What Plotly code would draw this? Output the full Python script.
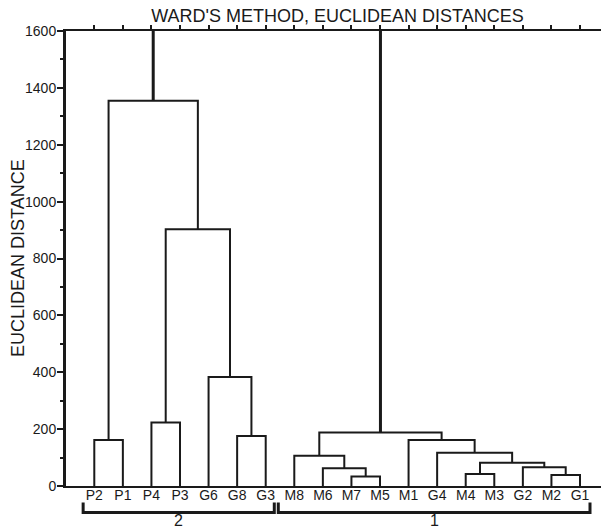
import plotly.graph_objects as go

# ---- data ----
leaf_labels = ["P2", "P1", "P4", "P3", "G6", "G8", "G3",
               "M8", "M6", "M7", "M5", "M1", "G4", "M4", "M3", "G2", "M2", "G1"]
# merges: children referenced by leaf label or by cluster id "c<k>" (k = merge index)
merge_left = ["P2", "P4", "G8", "G6", "c1", "c0",
              "M7", "M6", "M8", "M4", "M2", "G2", "c9", "G4", "M1", "c8", "c5"]
merge_right = ["P1", "P3", "G3", "c2", "c3", "c4",
               "M5", "c6", "c7", "M3", "G1", "c10", "c11", "c12", "c13", "c14", "c15"]
merge_heights = [162, 223, 176, 383, 903, 1355,
                 33, 62, 106, 42, 39, 66, 82, 117, 162, 188, 1750]
group_names = ["2", "1"]
group_first = ["P2", "M8"]
group_last = ["G3", "G1"]
y_ticks = [0, 200, 400, 600, 800, 1000, 1200, 1400, 1600]

FONT = "Liberation Sans, Arial, sans-serif"
INK = "#1a1a1a"

# ---- build dendrogram segments ----
pos = {lab: i for i, lab in enumerate(leaf_labels)}
hgt = {lab: 0 for lab in leaf_labels}
xs, ys = [], []
root_x, root_y = [], []
for k, (a, b, h) in enumerate(zip(merge_left, merge_right, merge_heights)):
    xa, xb = pos[a], pos[b]
    ha, hb = hgt[a], hgt[b]
    seg_x = [xa, xa, xb, xb, None]
    seg_y = [ha, h, h, hb, None]
    if k == len(merge_heights) - 1:
        root_x += seg_x
        root_y += seg_y
    else:
        xs += seg_x
        ys += seg_y
    cid = f"c{k}"
    pos[cid] = (xa + xb) / 2
    hgt[cid] = h

fig = go.Figure()
fig.add_trace(go.Scatter(x=xs, y=ys, mode="lines",
                         line=dict(color=INK, width=2), hoverinfo="skip",
                         showlegend=False))
fig.add_trace(go.Scatter(x=root_x, y=root_y, mode="lines",
                         line=dict(color=INK, width=3), hoverinfo="skip",
                         showlegend=False))
# invisible trace to activate top axis
fig.add_trace(go.Scatter(x=[0], y=[0], xaxis="x2", mode="markers",
                         marker=dict(opacity=0), hoverinfo="skip",
                         showlegend=False))

n = len(leaf_labels)
xrange = [-0.99, n - 1 + 0.735]

# ---- group brackets ----
shapes = []
annotations = []
for name, f, l in zip(group_names, group_first, group_last):
    x0 = pos[f] - 0.39 if f == leaf_labels[0] else pos[f] - 0.56
    x1 = pos[l] + 0.3 if l != leaf_labels[-1] else pos[l] + 0.35
    yb, yt = -0.058, -0.036
    shapes.append(dict(type="path", xref="x", yref="paper",
                       path=f"M {x0},{yt} L {x0},{yb} L {x1},{yb} L {x1},{yt}",
                       line=dict(color=INK, width=3)))
    annotations.append(dict(x=(x0 + x1) / 2, y=-0.0769, xref="x", yref="paper",
                            text=name, showarrow=False, yanchor="middle",
                            font=dict(family=FONT, size=16, color=INK)))

# y-axis title
annotations.append(dict(x=-0.0897, y=0.501, xref="paper", yref="paper",
                        text="EUCLIDEAN DISTANCE", textangle=-90,
                        showarrow=False, xanchor="center", yanchor="middle",
                        font=dict(family=FONT, size=18, color=INK)))

fig.update_layout(
    width=601, height=529,
    margin=dict(l=66, r=0, t=31, b=43, autoexpand=False),
    paper_bgcolor="white", plot_bgcolor="white",
    title=dict(text="WARD'S METHOD, EUCLIDEAN DISTANCES",
               x=0.5616, xanchor="center", y=0.9698, yanchor="middle",
               font=dict(family=FONT, size=18, color=INK)),
    xaxis=dict(range=xrange, tickmode="array",
               tickvals=list(range(n)), ticktext=leaf_labels,
               ticks="", showgrid=False, zeroline=False, automargin=False,
               ticklabelstandoff=-5,
               showline=True, linecolor=INK, linewidth=2,
               tickfont=dict(family=FONT, size=14, color=INK)),
    xaxis2=dict(range=xrange, overlaying="x", side="top", automargin=False,
                tickmode="array", tickvals=list(range(n)),
                showticklabels=False, ticks="outside", ticklen=4,
                tickwidth=2, tickcolor=INK,
                showline=True, linecolor=INK, linewidth=2,
                showgrid=False, zeroline=False),
    yaxis=dict(range=[0, 1600], tickmode="array", tickvals=y_ticks,
               ticks="outside", ticklen=6, tickwidth=2, tickcolor=INK,
               minor=dict(dtick=100, ticks="outside", ticklen=3,
                          tickwidth=2, tickcolor=INK, showgrid=False),
               showgrid=False, zeroline=False, automargin=False,
               ticklabelstandoff=-2,
               showline=True, linecolor=INK, linewidth=3,
               tickfont=dict(family=FONT, size=14, color=INK)),
    shapes=shapes, annotations=annotations,
)

# remove the browser's default 8px body margin so the figure fills the window
fig.write_html("out.html", config={"displayModeBar": False},
               post_script="document.body.style.margin='0';")
